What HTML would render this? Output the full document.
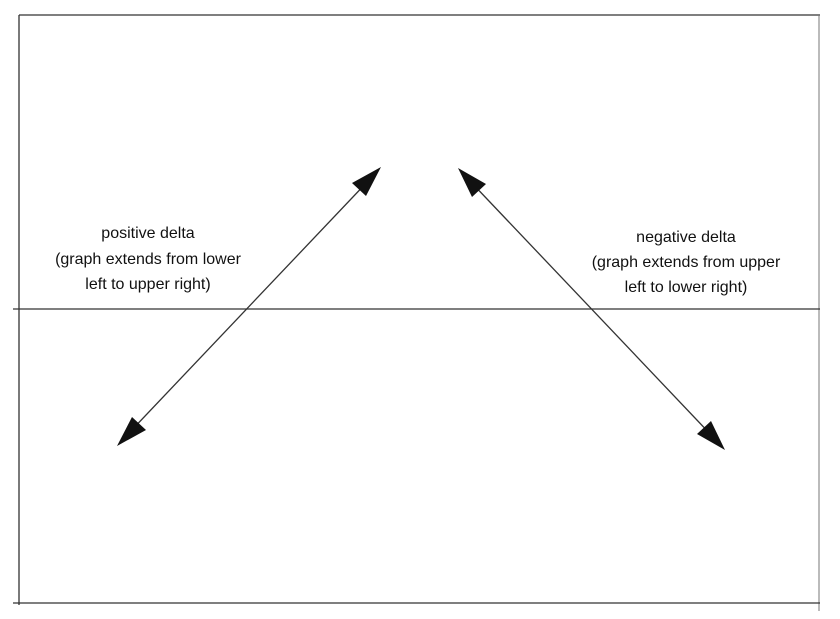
<!DOCTYPE html>
<html><head><style>
html,body{margin:0;padding:0;background:#fff;}
svg{display:block;}
text{font-family:"Liberation Sans",sans-serif;font-size:16px;fill:#111;}
</style></head><body>
<svg width="840" height="619" viewBox="0 0 840 619">
<g stroke="#333" stroke-width="1.3" fill="none">
<line x1="19" y1="15" x2="820" y2="15"/>
<line x1="19" y1="15" x2="19" y2="605"/>
<line x1="819" y1="15" x2="819" y2="611" stroke="#777" stroke-width="1"/>
<line x1="13" y1="309" x2="820" y2="309"/>
<line x1="13" y1="603" x2="820" y2="603"/>
<line x1="370" y1="179" x2="128" y2="434"/>
<line x1="469" y1="180" x2="714" y2="438"/>
</g>
<g fill="#111">
<polygon points="381,167 366,196 352,183"/>
<polygon points="117,446 132,417 146,430"/>
<polygon points="458,168 486,184 472,197"/>
<polygon points="725,450 697,434 711,421"/>
</g>
<text x="148" y="238" text-anchor="middle">positive delta</text>
<text x="148" y="264" text-anchor="middle">(graph extends from lower</text>
<text x="148" y="289" text-anchor="middle">left to upper right)</text>
<text x="686" y="242" text-anchor="middle">negative delta</text>
<text x="686" y="267" text-anchor="middle">(graph extends from upper</text>
<text x="686" y="292" text-anchor="middle">left to lower right)</text>
</svg>
</body></html>
